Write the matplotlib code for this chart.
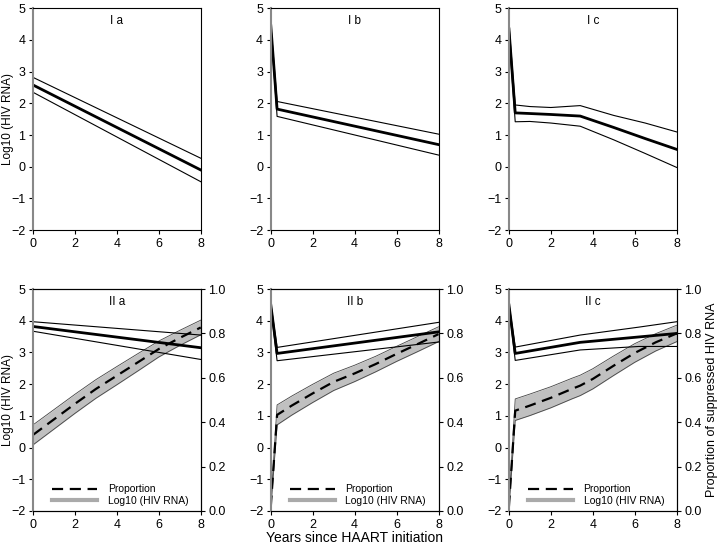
import matplotlib.pyplot as plt

plt.rcParams['font.family'] = ['Liberation Sans', 'DejaVu Sans']

# Row I: log10 HIV RNA, mean with upper/lower bounds
ia_x = [0, 8]
ia_mean = [2.58, -0.1]
ia_up = [2.82, 0.27]
ia_lo = [2.35, -0.47]

ib_x = [0, 0.3, 8]
ib_mean = [4.45, 1.82, 0.7]
ib_up = [4.5, 2.06, 1.03]
ib_lo = [4.4, 1.59, 0.37]

ic_x = [0, 0.3, 1, 2, 3.4, 5, 6.5, 8]
ic_mean = [4.35, 1.7, 1.68, 1.65, 1.6, 1.24, 0.89, 0.55]
ic_up = [4.5, 1.95, 1.9, 1.87, 1.93, 1.62, 1.38, 1.1]
ic_lo = [4.2, 1.42, 1.43, 1.38, 1.28, 0.85, 0.42, -0.02]

# Row II: log10 HIV RNA and proportion suppressed
iia_x = [0, 8]
iia_mean = [3.82, 3.15]
iia_up = [3.97, 3.55]
iia_lo = [3.67, 2.78]
iia_px = [0, 1, 2, 3, 4, 5, 6, 7, 8]
iia_p = [0.343, 0.413, 0.483, 0.55, 0.61, 0.67, 0.73, 0.78, 0.827]
iia_pup = [0.388, 0.457, 0.526, 0.592, 0.651, 0.709, 0.766, 0.814, 0.86]
iia_plo = [0.298, 0.369, 0.44, 0.508, 0.569, 0.631, 0.694, 0.746, 0.794]

iib_x = [0, 0.3, 8]
iib_mean = [4.5, 2.97, 3.65]
iib_up = [4.55, 3.16, 3.95]
iib_lo = [4.45, 2.74, 3.33]
iib_px = [0, 0.3, 1, 2, 3, 4, 5, 6, 7, 8]
iib_p = [0.02, 0.433, 0.475, 0.53, 0.582, 0.62, 0.662, 0.708, 0.752, 0.797]
iib_pup = [0.03, 0.478, 0.518, 0.571, 0.621, 0.657, 0.697, 0.742, 0.786, 0.83]
iib_plo = [0.01, 0.388, 0.432, 0.489, 0.543, 0.583, 0.627, 0.674, 0.718, 0.763]

iic_x = [0, 0.3, 3.4, 6.2, 8]
iic_mean = [4.5, 2.97, 3.32, 3.49, 3.6]
iic_up = [4.55, 3.17, 3.55, 3.8, 3.97]
iic_lo = [4.45, 2.75, 3.08, 3.19, 3.19]
iic_px = [0, 0.3, 1, 2, 3, 3.4, 4, 5, 6, 7, 8]
iic_p = [0.02, 0.452, 0.475, 0.51, 0.55, 0.565, 0.595, 0.655, 0.712, 0.76, 0.8]
iic_pup = [0.03, 0.505, 0.527, 0.56, 0.598, 0.612, 0.641, 0.699, 0.754, 0.799, 0.837]
iic_plo = [0.01, 0.408, 0.43, 0.465, 0.505, 0.52, 0.55, 0.611, 0.67, 0.721, 0.763]

fig = plt.figure(figsize=(7.26, 5.52), dpi=100)

lefts = [0.0455, 0.373, 0.701]
w, h = 0.231, 0.402
top_b, bot_b = 0.583, 0.0743


def style_ax(ax):
    ax.set_xlim(0, 8)
    ax.set_ylim(-2, 5)
    ax.set_xticks([0, 2, 4, 6, 8])
    ax.set_yticks(range(-2, 6))
    ax.tick_params(labelsize=9, length=3, width=0.8, direction='out', pad=2.5)
    for s in ax.spines.values():
        s.set_linewidth(0.8)
    ax.spines['left'].set_color('#888888')
    ax.spines['left'].set_linewidth(1.5)


def log_lines(ax, x, mean, up, lo):
    ax.plot(x, up, color='black', lw=0.8)
    ax.plot(x, lo, color='black', lw=0.8)
    ax.plot(x, mean, color='black', lw=2)


top = [(ia_x, ia_mean, ia_up, ia_lo, 'I a'),
       (ib_x, ib_mean, ib_up, ib_lo, 'I b'),
       (ic_x, ic_mean, ic_up, ic_lo, 'I c')]
for i, (x, m, u, l, name) in enumerate(top):
    ax = fig.add_axes([lefts[i], top_b, w, h])
    style_ax(ax)
    log_lines(ax, x, m, u, l)
    ax.text(0.5, 0.93, name, transform=ax.transAxes, ha='center', fontsize=8.5)
    if i == 0:
        ax.set_ylabel('Log10 (HIV RNA)', fontsize=8.5)
        ax.yaxis.set_label_coords(-0.113, 0.5)

bottom = [(iia_x, iia_mean, iia_up, iia_lo, iia_px, iia_p, iia_pup, iia_plo, 'II a'),
          (iib_x, iib_mean, iib_up, iib_lo, iib_px, iib_p, iib_pup, iib_plo, 'II b'),
          (iic_x, iic_mean, iic_up, iic_lo, iic_px, iic_p, iic_pup, iic_plo, 'II c')]
for i, (x, m, u, l, px, p, pu, pl, name) in enumerate(bottom):
    ax = fig.add_axes([lefts[i], bot_b, w, h])
    style_ax(ax)
    ax2 = ax.twinx()
    ax2.set_ylim(0, 1)
    ax2.set_yticks([0, 0.2, 0.4, 0.6, 0.8, 1.0])
    ax2.set_yticklabels(['0.0', '0.2', '0.4', '0.6', '0.8', '1.0'])
    ax2.tick_params(labelsize=9, length=3, width=0.8, pad=2.5)
    for s in ax2.spines.values():
        s.set_linewidth(0.8)
    ax2.spines['left'].set_visible(False)
    ax2.fill_between(px, pl, pu, color='#c0c0c0', lw=0)
    ax2.plot(px, pu, color='#444444', lw=0.6)
    ax2.plot(px, pl, color='#444444', lw=0.6)
    ax2.plot(px, p, color='black', lw=1.6, ls=(0, (5, 3)), label='Proportion')
    # log10 lines on the left scale, drawn on top
    ax.set_zorder(ax2.get_zorder() + 1)
    ax.patch.set_visible(False)
    log_lines(ax, x, m, u, l)
    ax.plot([], [], color='#aaaaaa', lw=3, label='Log10 (HIV RNA)')
    h1, lb1 = ax2.get_legend_handles_labels()
    h2, lb2 = ax.get_legend_handles_labels()
    ax.legend(h1 + h2, lb1 + lb2, loc='lower left', bbox_to_anchor=(0.06, -0.02),
              frameon=False, fontsize=7.5, handlelength=4.3, handletextpad=1.0,
              labelspacing=0.15)
    ax.text(0.5, 0.93, name, transform=ax.transAxes, ha='center', fontsize=8.5)
    if i == 0:
        ax.set_ylabel('Log10 (HIV RNA)', fontsize=8.5)
        ax.yaxis.set_label_coords(-0.113, 0.5)
    if i == 1:
        ax.set_xlabel('Years since HAART initiation', fontsize=10)
        ax.xaxis.set_label_coords(0.5, -0.09)
    if i == 2:
        ax2.set_ylabel('Proportion of suppressed HIV RNA', fontsize=9, labelpad=3)

fig.savefig('out.png', dpi=100)
